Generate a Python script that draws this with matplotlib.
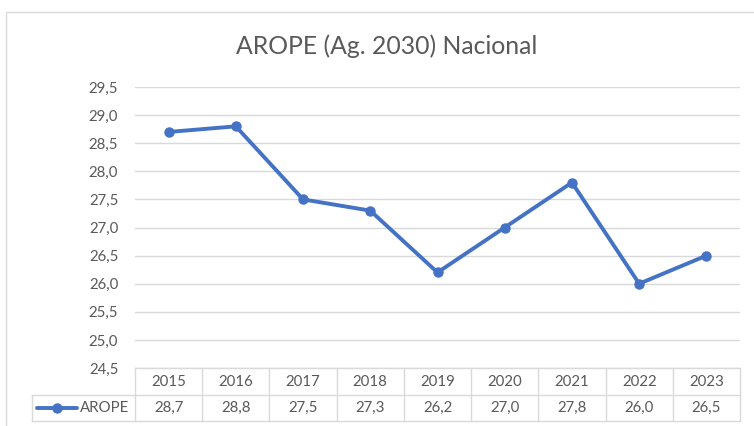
import matplotlib
matplotlib.use("Agg")
import matplotlib.pyplot as plt
from matplotlib.patches import Rectangle
from matplotlib.lines import Line2D
import matplotlib.transforms as mtrans

years = ["2015", "2016", "2017", "2018", "2019", "2020", "2021", "2022", "2023"]
arope = [28.7, 28.8, 27.5, 27.3, 26.2, 27.0, 27.8, 26.0, 26.5]
series_name = "AROPE"
title = "AROPE (Ag. 2030) Nacional"

plt.rcParams['font.family'] = ['Lato', 'DejaVu Sans']
W, H = 754, 426
fig = plt.figure(figsize=(W/100, H/100), dpi=100)

def fx(px):
    return px / W
def fy(py):
    return 1 - py / H

txt = '#595959'
grid = '#d9d9d9'
blue = '#4472C4'

# outer border
fig.patches.append(Rectangle((fx(6), fy(430)), fx(760) - fx(6), fy(12) - fy(430),
                             transform=fig.transFigure, fill=False, edgecolor=grid, lw=1))

left, right, top, bottom = 135, 740, 87, 368
ax = fig.add_axes([fx(left), fy(bottom), fx(right) - fx(left), fy(top) - fy(bottom)])
x = list(range(len(years)))
ax.plot(x, arope, color=blue, lw=2.8, marker='o', markersize=6.5, solid_capstyle='round', zorder=3)
ax.set_xlim(-0.5, len(years) - 0.5)
ax.set_ylim(24.5, 29.5)
yt = [24.5 + 0.5 * i for i in range(11)]
ax.set_yticks(yt)
ax.set_yticklabels([f"{v:.1f}".replace('.', ',') for v in yt], color=txt, fontsize=10.8)
ax.set_xticks([])
ax.tick_params(axis='y', length=0, pad=12)
ax.grid(axis='y', color=grid, lw=1)
for s in ax.spines.values():
    s.set_visible(False)
ax.set_axisbelow(True)

fig.text(fx(387), fy(46), title, ha='center', va='center', fontsize=17.8, color=txt)

# data table
tr = mtrans.blended_transform_factory(ax.transData, fig.transFigure)
r0, r1, r2 = 368, 395, 421
kw = dict(color=grid, lw=1, clip_on=False)
fig.add_artist(Line2D([fx(left), fx(right)], [fy(r0), fy(r0)], transform=fig.transFigure, **kw))
fig.add_artist(Line2D([fx(32), fx(right)], [fy(r1), fy(r1)], transform=fig.transFigure, **kw))
fig.add_artist(Line2D([fx(32), fx(right)], [fy(r2), fy(r2)], transform=fig.transFigure, **kw))
fig.add_artist(Line2D([fx(32), fx(32)], [fy(r1), fy(r2)], transform=fig.transFigure, **kw))
for i in range(len(years) + 1):
    fig.add_artist(Line2D([i - 0.5, i - 0.5], [fy(r0), fy(r2)], transform=tr, **kw))
for i, (yr, v) in enumerate(zip(years, arope)):
    fig.text(i, fy((r0 + r1) / 2), yr, transform=tr, ha='center', va='center', fontsize=10.8, color=txt)
    fig.text(i, fy((r1 + r2) / 2), f"{v:.1f}".replace('.', ','), transform=tr,
             ha='center', va='center', fontsize=10.8, color=txt)
ym = fy((r1 + r2) / 2)
fig.add_artist(Line2D([fx(37), fx(77)], [ym, ym], transform=fig.transFigure, color=blue, lw=2.8,
                      solid_capstyle='round'))
fig.add_artist(Line2D([fx(57)], [ym], transform=fig.transFigure, color=blue, marker='o', markersize=6.5))
fig.text(fx(80), ym, series_name, ha='left', va='center', fontsize=10.8, color=txt)

fig.savefig("out.png", dpi=100)
